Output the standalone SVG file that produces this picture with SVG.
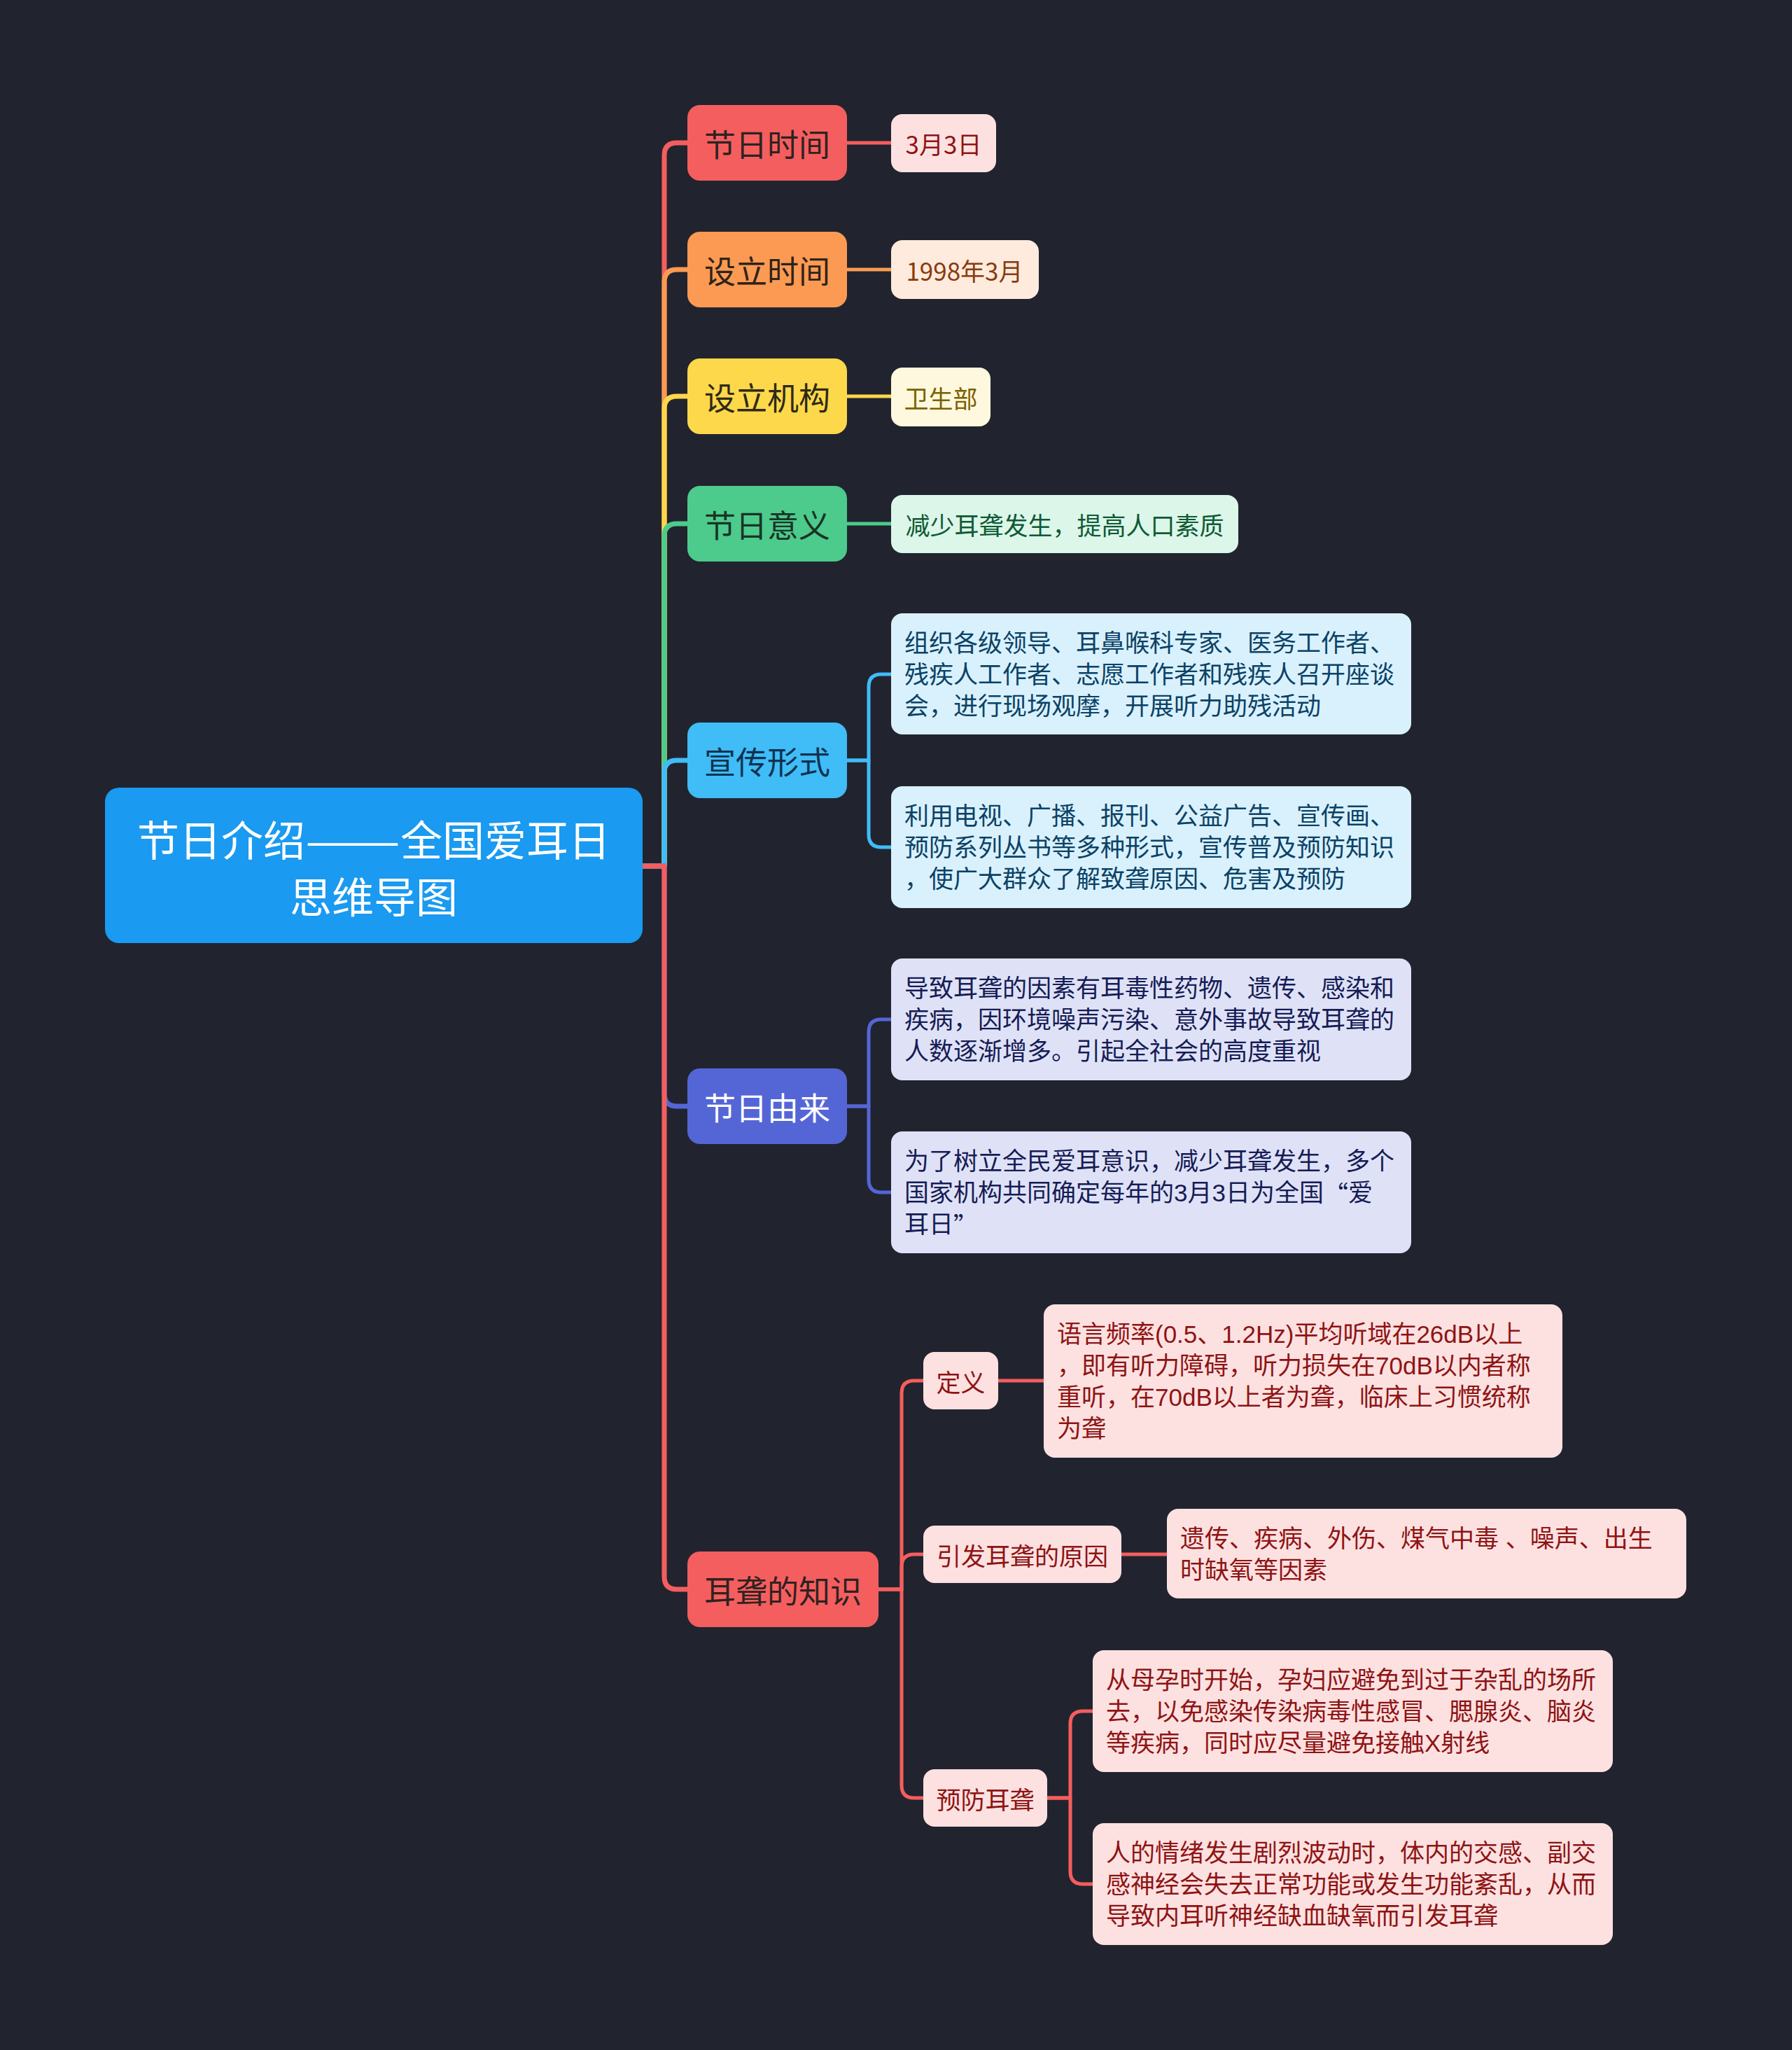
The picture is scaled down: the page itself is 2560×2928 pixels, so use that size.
<svg xmlns="http://www.w3.org/2000/svg" width="2560" height="2928" viewBox="0 0 2560 2928">
<style>
text{font-family:"Noto Sans CJK SC","Noto Sans",sans-serif;dominant-baseline:central}
tspan{dominant-baseline:central}
.root{font-size:60px;fill:#ffffff;text-anchor:middle}
.l1{font-size:45px;text-anchor:middle}
.lf{font-size:35px}
.ml{font-family:"Liberation Sans","Noto Sans CJK SC",sans-serif}
.q{font-family:"Noto Sans CJK SC",sans-serif}
.mid{text-anchor:middle}
.c1{fill:none;stroke-width:7;stroke-linecap:round;stroke-linejoin:round}
.c2{fill:none;stroke-width:5;stroke-linecap:round;stroke-linejoin:round}
</style>
<rect x="0" y="0" width="2560" height="2928" fill="#21242f"/>

<g id="connectors">
  <path class="c1" stroke="#f55e5e" d="M918 1237 H949 V222 Q949 204 967 204 H984"/>
  <path class="c1" stroke="#fc9a53" d="M918 1237 H949 V403 Q949 385 967 385 H984"/>
  <path class="c1" stroke="#fdd84b" d="M918 1237 H949 V584 Q949 566 967 566 H984"/>
  <path class="c1" stroke="#4ccb8c" d="M918 1237 H949 V766 Q949 748 967 748 H984"/>
  <path class="c1" stroke="#40bcf7" d="M918 1237 H949 V1104 Q949 1086 967 1086 H984"/>
  <path class="c1" stroke="#5466d6" d="M918 1237 H949 V1562 Q949 1580 967 1580 H984"/>
  <path class="c1" stroke="#f55e5e" d="M918 1237 H949 V2252 Q949 2270 967 2270 H984"/>

  <path class="c2" stroke="#f55e5e" d="M1208 204 H1275"/>
  <path class="c2" stroke="#fc9a53" d="M1208 385 H1275"/>
  <path class="c2" stroke="#fdd84b" d="M1208 566 H1275"/>
  <path class="c2" stroke="#4ccb8c" d="M1208 748 H1275"/>

  <path class="c2" stroke="#40bcf7" d="M1208 1086 H1241 V981 Q1241 963 1259 963 H1275"/>
  <path class="c2" stroke="#40bcf7" d="M1208 1086 H1241 V1192 Q1241 1210 1259 1210 H1275"/>

  <path class="c2" stroke="#5466d6" d="M1208 1580 H1241 V1474 Q1241 1456 1259 1456 H1275"/>
  <path class="c2" stroke="#5466d6" d="M1208 1580 H1241 V1685 Q1241 1703 1259 1703 H1275"/>

  <path class="c2" stroke="#f55e5e" d="M1253 2270 H1288 V1990 Q1288 1972 1306 1972 H1321"/>
  <path class="c2" stroke="#f55e5e" d="M1253 2270 H1288 V2238 Q1288 2220 1306 2220 H1321"/>
  <path class="c2" stroke="#f55e5e" d="M1253 2270 H1288 V2550 Q1288 2568 1306 2568 H1321"/>

  <path class="c2" stroke="#f55e5e" d="M1424 1972 H1493"/>
  <path class="c2" stroke="#f55e5e" d="M1600 2220 H1669"/>
  <path class="c2" stroke="#f55e5e" d="M1494 2568 H1529 V2462 Q1529 2444 1547 2444 H1563"/>
  <path class="c2" stroke="#f55e5e" d="M1494 2568 H1529 V2673 Q1529 2691 1547 2691 H1563"/>
</g>

<g id="root">
  <rect x="150" y="1125" width="768" height="222" rx="20" fill="#1a9af0"/>
  <text class="root"><tspan x="534" y="1196">节日介绍<tspan textLength="136" lengthAdjust="spacingAndGlyphs">——</tspan>全国爱耳日</tspan><tspan x="534" y="1277">思维导图</tspan></text>
</g>

<g id="n-jieri-shijian">
  <rect x="982" y="150" width="228" height="108" rx="18" fill="#f55e5e"/>
  <text class="l1" x="1096" y="204" fill="#2e2222">节日时间</text>
</g>
<g id="leaf-0303">
  <rect x="1273" y="163" width="150" height="83" rx="16" fill="#fde1e1"/>
  <text class="lf mid" x="1348" y="204" fill="#8e1414">3月3日</text>
</g>

<g id="n-sheli-shijian">
  <rect x="982" y="331" width="228" height="108" rx="18" fill="#fc9a53"/>
  <text class="l1" x="1096" y="385" fill="#2e2418">设立时间</text>
</g>
<g id="leaf-1998">
  <rect x="1273" y="343" width="211" height="84" rx="16" fill="#feebdd"/>
  <text class="lf mid" x="1378" y="385" fill="#8a3a0e">1998年3月</text>
</g>

<g id="n-sheli-jigou">
  <rect x="982" y="512" width="228" height="108" rx="18" fill="#fdd84b"/>
  <text class="l1" x="1096" y="566" fill="#2e2a16">设立机构</text>
</g>
<g id="leaf-weishengbu">
  <rect x="1273" y="525" width="142" height="84" rx="16" fill="#fef9de"/>
  <text class="lf mid" x="1344" y="567" fill="#7c6000">卫生部</text>
</g>

<g id="n-jieri-yiyi">
  <rect x="982" y="694" width="228" height="108" rx="18" fill="#4ccb8c"/>
  <text class="l1" x="1096" y="748" fill="#1a3326">节日意义</text>
</g>
<g id="leaf-yiyi">
  <rect x="1273" y="707" width="496" height="83" rx="16" fill="#dcf6e9"/>
  <text class="lf mid" x="1521" y="748" fill="#0e5a35">减少耳聋发生，提高人口素质</text>
</g>

<g id="n-xuanchuan">
  <rect x="982" y="1032" width="228" height="108" rx="18" fill="#40bcf7"/>
  <text class="l1" x="1096" y="1086" fill="#0e3350">宣传形式</text>
</g>
<g id="leaf-xuanchuan-1">
  <rect x="1273" y="876" width="743" height="173" rx="16" fill="#d9f1fd"/>
  <text class="lf ml" fill="#0b4266"><tspan x="1292" y="918">组织各级领导、耳鼻喉科专家、医务工作者、</tspan><tspan x="1292" y="963">残疾人工作者、志愿工作者和残疾人召开座谈</tspan><tspan x="1292" y="1008">会，进行现场观摩，开展听力助残活动</tspan></text>
</g>
<g id="leaf-xuanchuan-2">
  <rect x="1273" y="1123" width="743" height="174" rx="16" fill="#d9f1fd"/>
  <text class="lf ml" fill="#0b4266"><tspan x="1292" y="1165">利用电视、广播、报刊、公益广告、宣传画、</tspan><tspan x="1292" y="1210">预防系列丛书等多种形式，宣传普及预防知识</tspan><tspan x="1292" y="1255">，使广大群众了解致聋原因、危害及预防</tspan></text>
</g>

<g id="n-youlai">
  <rect x="982" y="1526" width="228" height="108" rx="18" fill="#5466d6"/>
  <text class="l1" x="1096" y="1580" fill="#ffffff">节日由来</text>
</g>
<g id="leaf-youlai-1">
  <rect x="1273" y="1369" width="743" height="174" rx="16" fill="#dfe2f6"/>
  <text class="lf ml" fill="#161c56"><tspan x="1292" y="1411">导致耳聋的因素有耳毒性药物、遗传、感染和</tspan><tspan x="1292" y="1456">疾病，因环境噪声污染、意外事故导致耳聋的</tspan><tspan x="1292" y="1501">人数逐渐增多。引起全社会的高度重视</tspan></text>
</g>
<g id="leaf-youlai-2">
  <rect x="1273" y="1616" width="743" height="174" rx="16" fill="#dfe2f6"/>
  <text class="lf ml" fill="#161c56"><tspan x="1292" y="1658">为了树立全民爱耳意识，减少耳聋发生，多个</tspan><tspan x="1292" y="1703">国家机构共同确定每年的3月3日为全国<tspan class="q">“</tspan>爱</tspan><tspan x="1292" y="1748">耳日<tspan class="q">”</tspan></tspan></text>
</g>

<g id="n-zhishi">
  <rect x="982" y="2216" width="273" height="108" rx="18" fill="#f55e5e"/>
  <text class="l1" x="1118.5" y="2270" fill="#2e2222">耳聋的知识</text>
</g>
<g id="n-dingyi">
  <rect x="1319" y="1931" width="107" height="82" rx="16" fill="#fde1e1"/>
  <text class="lf mid" x="1372.5" y="1972" fill="#8e1414">定义</text>
</g>
<g id="leaf-dingyi">
  <rect x="1491" y="1863" width="741" height="219" rx="16" fill="#fde1e1"/>
  <text class="lf ml" fill="#8e1414"><tspan x="1510" y="1905">语言频率(0.5、1.2Hz)平均听域在26dB以上</tspan><tspan x="1510" y="1950">，即有听力障碍，听力损失在70dB以内者称</tspan><tspan x="1510" y="1995">重听，在70dB以上者为聋，临床上习惯统称</tspan><tspan x="1510" y="2040">为聋</tspan></text>
</g>
<g id="n-yuanyin">
  <rect x="1319" y="2179" width="283" height="82" rx="16" fill="#fde1e1"/>
  <text class="lf mid" x="1460.5" y="2220" fill="#8e1414">引发耳聋的原因</text>
</g>
<g id="leaf-yuanyin">
  <rect x="1667" y="2155" width="742" height="128" rx="16" fill="#fde1e1"/>
  <text class="lf ml" fill="#8e1414"><tspan x="1686" y="2197">遗传、疾病、外伤、煤气中毒 、噪声、出生</tspan><tspan x="1686" y="2242">时缺氧等因素</tspan></text>
</g>
<g id="n-yufang">
  <rect x="1319" y="2527" width="177" height="82" rx="16" fill="#fde1e1"/>
  <text class="lf mid" x="1407.5" y="2568" fill="#8e1414">预防耳聋</text>
</g>
<g id="leaf-yufang-1">
  <rect x="1561" y="2357" width="743" height="174" rx="16" fill="#fde1e1"/>
  <text class="lf ml" fill="#8e1414"><tspan x="1580" y="2399">从母孕时开始，孕妇应避免到过于杂乱的场所</tspan><tspan x="1580" y="2444">去，以免感染传染病毒性感冒、腮腺炎、脑炎</tspan><tspan x="1580" y="2489">等疾病，同时应尽量避免接触X射线</tspan></text>
</g>
<g id="leaf-yufang-2">
  <rect x="1561" y="2604" width="743" height="174" rx="16" fill="#fde1e1"/>
  <text class="lf ml" fill="#8e1414"><tspan x="1580" y="2646">人的情绪发生剧烈波动时，体内的交感、副交</tspan><tspan x="1580" y="2691">感神经会失去正常功能或发生功能紊乱，从而</tspan><tspan x="1580" y="2736">导致内耳听神经缺血缺氧而引发耳聋</tspan></text>
</g>
</svg>
